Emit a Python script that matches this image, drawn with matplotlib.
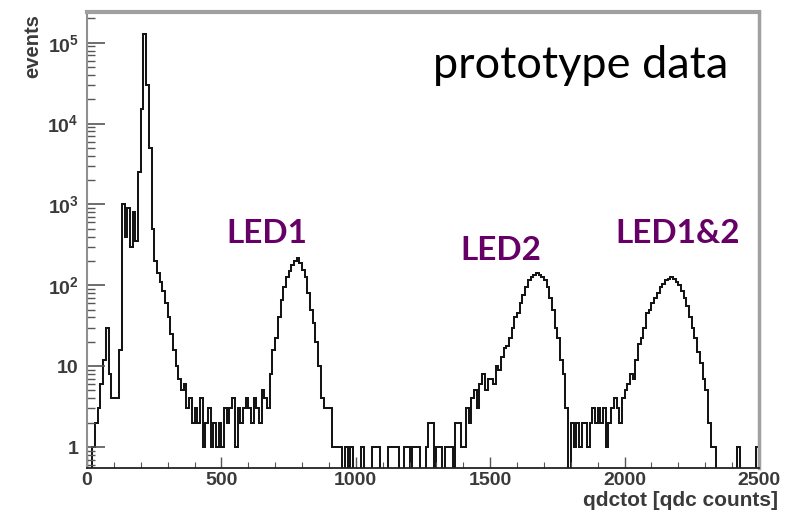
import numpy as np
import matplotlib
matplotlib.use('Agg')
import matplotlib.pyplot as plt
from matplotlib.ticker import FixedLocator, FixedFormatter, LogLocator, NullFormatter, MultipleLocator

plt.rcParams['mathtext.default'] = 'regular'

# histogram of qdctot, 10 qdc counts per bin
bin_width = 10
counts = [
    0, 0, 1, 2, 3, 6, 12, 30, 8, 4,                      # 0-100
    4, 4, 16, 1000, 400, 900, 300, 800, 350, 2500,       # 100-200
    15000, 130000, 30000, 5000, 500, 200, 140, 110, 85, 60,  # 200-300
    40, 25, 16, 10, 7, 5, 6, 3, 4, 2,                    # 300-400
    3, 2, 4, 1, 2, 3, 1, 2, 1, 2,                        # 400-500
    1, 3, 2, 3, 4, 1, 3, 2, 3, 4,                        # 500-600
    3, 2, 4, 3, 2, 5, 4, 3, 8, 16,                       # 600-700
    22, 40, 65, 95, 127, 150, 180, 200, 215, 190,        # 700-800  LED1
    155, 125, 80, 50, 34, 20, 10, 4, 3, 3,               # 800-900
    3, 1, 1, 1, 1, 0, 1, 0, 1, 0,                        # 900-1000
    0, 0, 1, 0, 0, 0, 1, 1, 1, 0,                        # 1000-1100
    0, 0, 1, 1, 1, 1, 0, 0, 1, 1,                        # 1100-1200
    0, 1, 1, 1, 0, 0, 1, 2, 2, 0,                        # 1200-1300
    1, 1, 0, 1, 1, 1, 0, 2, 2, 1,                        # 1300-1400
    1, 3, 2, 4, 5, 3, 6, 8, 5, 7,                        # 1400-1500
    7, 6, 10, 9, 13, 17, 18, 22, 30, 40,                 # 1500-1600
    45, 60, 75, 95, 117, 125, 135, 142, 135, 125,        # 1600-1700 LED2
    117, 95, 70, 50, 30, 22, 12, 8, 3, 0,                # 1700-1800
    2, 1, 2, 1, 2, 2, 1, 2, 3, 2,                        # 1800-1900
    3, 2, 3, 1, 2, 3, 4, 3, 2, 4,                        # 1900-2000
    5, 6, 8, 7, 12, 19, 22, 30, 45, 50,                  # 2000-2100
    60, 70, 80, 95, 105, 115, 120, 127, 120, 110,        # 2100-2200 LED1&2
    100, 85, 70, 55, 40, 30, 22, 15, 11, 7,              # 2200-2300
    5, 2, 1, 1, 0, 0, 0, 0, 0, 0,                        # 2300-2400
    0, 0, 1, 0, 0, 0, 0, 0, 0, 1,                        # 2400-2500
]
edges = np.arange(0, bin_width * (len(counts) + 1), bin_width)

x_ticks = [0, 500, 1000, 1500, 2000, 2500]
y_ticks = [1, 10, 100, 1000, 10000, 100000]
y_labels = ['1', '10', '10$^{2}$', '10$^{3}$', '10$^{4}$', '10$^{5}$']

led_labels = ['LED1', 'LED2', 'LED1&2']
led_pos = [(267, 234), (501, 251), (678, 234)]  # pixel centres

fig = plt.figure(figsize=(7.91, 5.15), dpi=100)
ax = fig.add_axes([87 / 791, 47 / 515, 672 / 791, 456 / 515])

ax.stairs(counts, edges, color='#151515', lw=1.45)
ax.set_yscale('log')
ax.set_xlim(0, 2500)
ax.set_ylim(0.55, 2.4e5)

ax.xaxis.set_major_locator(FixedLocator(x_ticks))
ax.xaxis.set_minor_locator(MultipleLocator(100))
ax.yaxis.set_major_locator(FixedLocator(y_ticks))
ax.yaxis.set_major_formatter(FixedFormatter(y_labels))
ax.yaxis.set_minor_locator(LogLocator(base=10, subs=np.arange(2, 10)))
ax.yaxis.set_minor_formatter(NullFormatter())

ax.tick_params(axis='both', which='both', direction='in', colors='#555555',
               labelcolor='#3a3a3a', labelsize=14)
ax.tick_params(axis='y', which='major', length=13, width=1.2, pad=6)
ax.tick_params(axis='y', which='minor', length=6, width=1.0)
ax.tick_params(axis='x', which='major', length=8, width=1.0, pad=3)
ax.tick_params(axis='x', which='minor', length=4, width=0.8)
for lab in ax.get_xticklabels() + ax.get_yticklabels():
    lab.set_fontfamily('Liberation Sans')
    lab.set_fontweight('bold')

ax.spines['top'].set_color('#a0a0a0')
ax.spines['top'].set_linewidth(3)
ax.spines['right'].set_color('#a0a0a0')
ax.spines['right'].set_linewidth(2.5)
ax.spines['left'].set_color('#909090')
ax.spines['left'].set_linewidth(1.5)
ax.spines['bottom'].set_color('#222222')
ax.spines['bottom'].set_linewidth(1.3)

fig.text(33 / 791, 1 - 46 / 515, 'events', rotation=90, ha='center', va='center',
         fontsize=14.5, fontweight='bold', color='#3a3a3a', family='Liberation Sans')
fig.text(778 / 791, 1 - 500 / 515, 'qdctot [qdc counts]', ha='right', va='center',
         fontsize=15, fontweight='bold', color='#3a3a3a', family='Liberation Sans')

fig.text(433 / 791, 1 - 78 / 515, 'prototype data', ha='left', va='baseline',
         fontsize=32.5, color='black', family='Lato')

for lab, (px, py) in zip(led_labels, led_pos):
    fig.text(px / 791, 1 - py / 515, lab, ha='center', va='center',
             fontsize=24, fontweight='bold', color='#660066', family='Lato')

fig.savefig('out.png', dpi=100)
